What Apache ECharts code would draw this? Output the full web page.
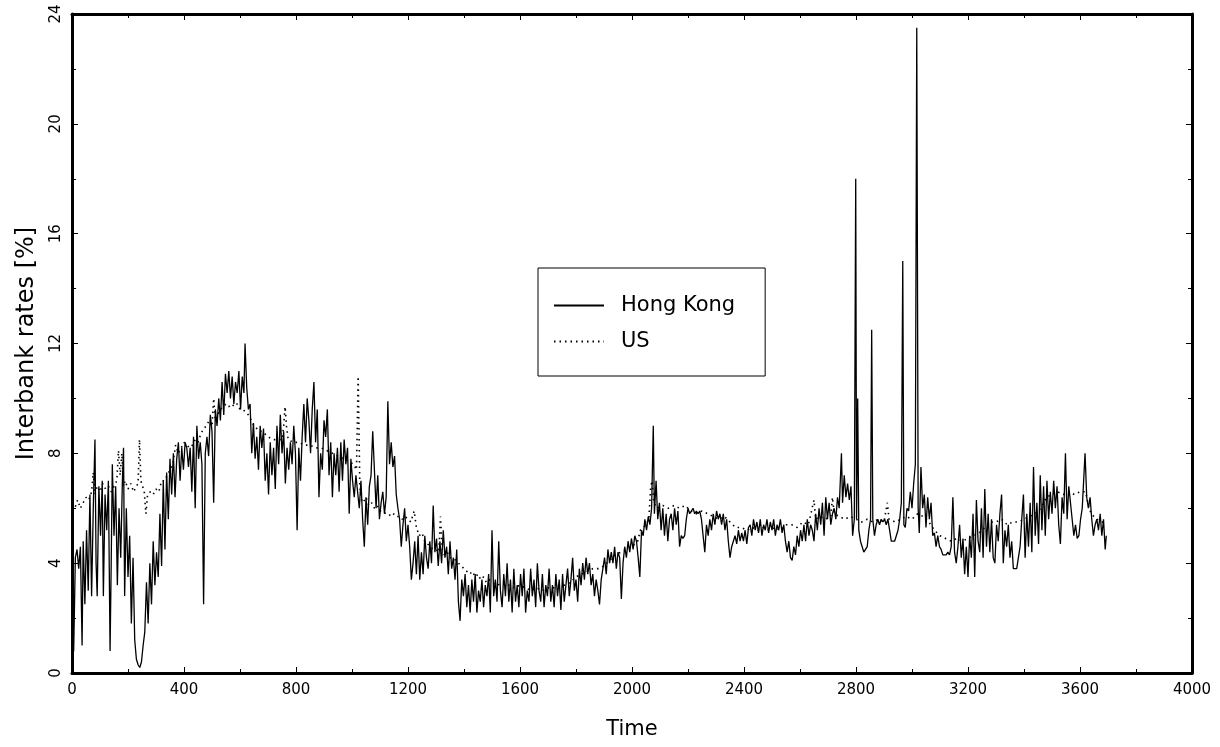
<!DOCTYPE html>
<html>
<head>
<meta charset="utf-8">
<script src="https://cdn.jsdelivr.net/npm/echarts@6/dist/echarts.min.js"></script>
<style>
  html, body {margin: 0; padding: 0; background: #fff;}
  #main {width: 1220px; height: 747px;}
</style>
</head>
<body>
<div id="main"></div>
<script>
// [time, rate]
const hkPoints = [
  [0,0.7],[6,0.8],[12,4.2],[18,4.5],[24,3.8],[30,4.6],[36,1.0],[40,4.8],[46,2.5],[52,5.2],[58,3.0],[64,6.5],[70,2.8],[76,6.0],[82,8.5],[86,4.0],[90,2.8],[96,6.8],
  [102,5.0],[108,7.0],[112,2.8],[118,6.5],[124,5.2],[130,7.0],[136,0.8],[140,4.0],[144,7.6],[150,5.0],[156,6.8],[162,3.2],[168,6.0],[174,4.2],[180,7.0],[184,8.2],[188,2.8],[194,6.0],
  [200,3.5],[206,5.0],[212,1.8],[218,4.2],[224,1.2],[230,0.5],[236,0.3],[242,0.2],[248,0.4],[254,1.0],[260,1.5],[266,3.3],[272,1.8],[278,4.0],[284,2.5],[290,4.8],[296,3.2],
  [302,4.4],[308,3.5],[314,5.8],[320,3.9],[326,7.0],[332,4.5],[338,7.3],[344,5.6],[350,7.8],[356,6.5],[362,8.0],[368,6.4],[374,7.8],[380,8.4],[386,7.0],[392,8.2],[398,7.4],
  [404,8.4],[410,8.2],[416,7.5],[422,8.2],[428,6.6],[434,8.6],[440,6.0],[446,9.0],[452,7.8],[458,8.4],[464,7.6],[470,2.5],[476,8.0],[482,8.6],[488,7.9],[494,9.4],
  [500,8.8],[506,6.2],[512,9.6],[518,9.0],[524,10.0],[530,9.2],[536,10.6],[542,9.4],[548,10.9],[554,10.2],[560,11.0],[566,10.0],[572,10.8],[578,9.8],[584,10.6],[590,10.2],[596,11.0],
  [602,9.6],[608,10.8],[614,10.2],[618,12.0],[624,10.4],[630,9.6],[636,9.8],[642,8.0],[648,9.1],[654,7.8],[660,8.6],[666,7.4],[672,9.0],[678,8.2],[684,8.9],[690,7.0],[696,8.0],
  [702,6.5],[708,8.4],[714,7.2],[720,8.2],[726,6.7],[732,9.0],[738,7.6],[744,9.4],[750,8.0],[756,8.8],[762,6.9],[768,8.2],[774,7.4],[780,8.4],[786,7.6],[792,9.0],[798,8.0],
  [804,5.2],[810,8.2],[816,7.0],[822,8.6],[828,9.8],[834,8.4],[840,10.0],[846,9.2],[852,8.0],[858,9.6],[864,10.6],[870,8.4],[876,9.6],[882,6.4],[888,8.0],[894,7.4],
  [900,9.2],[906,8.6],[912,9.6],[918,7.2],[924,8.4],[930,6.4],[936,8.0],[942,7.2],[948,8.2],[954,6.6],[960,8.4],[966,7.0],[972,8.5],[978,7.6],[984,8.2],[990,5.8],[996,7.8],
  [1002,7.0],[1008,6.4],[1014,7.2],[1020,6.6],[1026,6.0],[1032,7.0],[1038,5.6],[1044,4.6],[1050,6.4],[1056,5.4],[1062,6.8],[1068,7.2],[1074,8.8],[1080,7.4],[1086,6.0],[1092,7.2],[1098,5.6],
  [1104,6.2],[1110,6.6],[1116,5.8],[1122,6.4],[1128,9.9],[1134,7.6],[1140,8.4],[1146,7.5],[1152,7.9],[1158,6.5],[1164,6.0],[1170,5.6],[1176,4.6],[1182,5.4],[1188,6.0],[1194,4.8],
  [1200,5.4],[1206,4.6],[1212,3.4],[1218,4.0],[1224,4.8],[1230,3.6],[1236,5.0],[1242,3.4],[1248,4.4],[1254,3.6],[1260,5.0],[1266,4.2],[1272,3.8],[1278,4.8],[1284,4.0],[1290,6.1],[1296,4.4],
  [1302,4.9],[1308,3.9],[1314,4.8],[1320,4.0],[1326,5.2],[1332,4.2],[1338,4.6],[1344,3.6],[1350,4.8],[1356,3.8],[1362,4.2],[1368,3.4],[1374,4.5],[1380,2.6],[1386,1.9],[1392,3.4],[1398,2.8],
  [1404,3.6],[1410,2.4],[1416,3.2],[1422,2.2],[1428,3.4],[1434,2.6],[1440,3.6],[1446,2.2],[1452,3.0],[1458,2.6],[1464,3.4],[1470,2.4],[1476,3.2],[1482,2.8],[1488,3.6],[1494,2.2],
  [1500,5.2],[1506,2.8],[1512,3.4],[1518,2.6],[1524,4.8],[1530,3.0],[1536,2.4],[1542,3.6],[1548,2.8],[1554,4.0],[1560,2.6],[1566,3.4],[1572,2.2],[1578,3.8],[1584,2.6],[1590,3.2],[1596,2.4],
  [1602,3.6],[1608,2.8],[1614,3.8],[1620,2.2],[1626,3.0],[1632,2.6],[1638,3.8],[1644,2.8],[1650,3.4],[1656,2.4],[1662,4.0],[1668,3.0],[1674,2.6],[1680,3.6],[1686,2.4],[1692,3.2],[1698,2.8],
  [1704,3.8],[1710,2.6],[1716,3.2],[1722,2.4],[1728,3.6],[1734,2.8],[1740,3.4],[1746,2.3],[1752,3.6],[1758,2.6],[1764,3.2],[1770,3.8],[1776,2.8],[1782,3.4],[1788,4.2],[1794,3.0],
  [1800,3.4],[1806,2.6],[1812,3.8],[1818,3.2],[1824,4.0],[1830,3.4],[1836,4.2],[1842,3.6],[1848,4.0],[1854,3.2],[1860,3.6],[1866,2.8],[1872,3.4],[1878,3.0],[1884,2.5],[1890,3.4],[1896,3.8],
  [1902,4.2],[1908,3.6],[1914,4.5],[1920,4.0],[1926,4.4],[1932,4.0],[1938,4.6],[1944,3.8],[1950,4.4],[1956,4.2],[1962,2.7],[1968,4.0],[1974,4.6],[1980,4.2],[1986,4.8],[1992,4.4],[1998,4.9],
  [2004,4.5],[2010,5.0],[2016,4.8],[2022,4.2],[2028,3.5],[2034,5.2],[2040,5.0],[2046,5.6],[2052,5.2],[2058,5.7],[2064,5.4],[2070,6.0],[2076,9.0],[2080,5.8],[2086,7.0],[2092,5.6],[2098,6.2],
  [2104,5.2],[2110,6.0],[2116,5.0],[2122,5.8],[2128,4.8],[2134,5.6],[2140,5.8],[2146,5.2],[2152,6.0],[2158,5.4],[2164,5.9],[2170,4.6],[2176,5.0],[2182,4.9],[2188,5.0],[2194,5.6],
  [2200,6.0],[2206,5.8],[2212,5.9],[2218,6.0],[2224,5.8],[2230,5.9],[2236,5.8],[2242,5.9],[2248,5.6],[2254,5.0],[2260,4.4],[2266,5.4],[2272,5.0],[2278,5.6],[2284,5.2],[2290,5.8],[2296,5.4],
  [2302,5.9],[2308,5.6],[2314,5.8],[2320,5.4],[2326,5.8],[2332,5.2],[2338,5.6],[2344,4.8],[2350,4.2],[2356,4.6],[2362,4.8],[2368,5.0],[2374,4.7],[2380,5.2],[2386,4.8],[2392,5.1],[2398,4.8],
  [2404,5.2],[2410,4.7],[2416,5.3],[2422,5.4],[2428,5.0],[2434,5.6],[2440,5.2],[2446,5.5],[2452,5.1],[2458,5.6],[2464,5.0],[2470,5.4],[2476,5.2],[2482,5.6],[2488,5.1],[2494,5.5],
  [2500,5.2],[2506,5.6],[2512,5.0],[2518,5.4],[2524,5.2],[2530,5.6],[2536,5.1],[2542,5.4],[2548,4.8],[2554,4.4],[2560,4.8],[2566,4.2],[2572,4.1],[2578,4.6],[2584,4.3],[2590,5.0],[2596,4.6],
  [2602,5.2],[2608,4.8],[2614,5.4],[2620,4.8],[2626,5.6],[2632,5.0],[2638,5.4],[2644,5.2],[2650,4.8],[2656,5.8],[2662,5.2],[2668,6.0],[2674,5.4],[2680,6.2],[2686,5.0],[2692,6.4],[2698,5.6],
  [2704,6.2],[2710,5.4],[2716,5.8],[2722,6.0],[2728,5.6],[2734,6.4],[2740,6.0],[2748,8.0],[2752,6.2],[2758,7.2],[2764,6.4],[2770,6.9],[2776,6.3],[2782,6.8],[2788,5.0],[2794,5.6],
  [2799,18.0],[2802,5.6],[2806,10.0],[2810,5.2],[2816,4.8],[2822,4.6],[2828,4.4],[2834,4.4],[2840,4.6],[2846,5.2],[2852,5.6],[2856,12.5],[2860,5.6],[2866,5.0],[2872,5.4],[2878,5.6],
  [2884,5.4],[2890,5.6],[2896,5.5],[2902,5.6],[2908,5.4],[2914,5.6],[2920,5.2],[2926,4.8],[2932,4.8],[2938,4.8],[2944,4.8],[2950,5.2],[2956,5.6],[2962,6.2],[2967,15.0],[2971,5.4],
  [2976,5.3],[2982,6.0],[2988,5.9],[2994,6.6],[3000,6.0],[3006,6.9],[3012,7.6],[3017,23.5],[3022,6.0],[3026,5.1],[3032,7.5],[3038,6.0],[3044,6.5],[3050,5.3],[3056,6.4],[3062,5.6],
  [3068,6.2],[3074,5.0],[3080,5.1],[3086,4.6],[3092,5.0],[3098,4.6],[3104,4.5],[3110,4.3],[3116,4.3],[3122,4.3],[3128,4.4],[3134,4.3],[3140,4.6],[3146,6.4],[3152,4.4],[3158,4.0],
  [3164,4.6],[3170,5.4],[3176,4.2],[3182,4.9],[3188,3.6],[3194,4.6],[3200,3.5],[3206,5.0],[3212,4.2],[3218,5.8],[3224,3.5],[3230,6.3],[3236,4.8],[3242,4.4],[3248,6.0],[3254,4.2],
  [3260,6.7],[3266,4.6],[3272,5.8],[3278,4.4],[3284,5.6],[3290,4.2],[3296,4.0],[3302,5.4],[3308,4.8],[3314,5.8],[3320,6.5],[3326,4.0],[3332,5.2],[3338,4.6],[3344,5.4],[3350,4.2],
  [3356,4.8],[3362,3.8],[3368,3.8],[3374,3.8],[3380,3.8],[3386,4.6],[3392,5.6],[3398,6.5],[3404,4.2],[3410,5.8],[3416,4.6],[3422,6.2],[3428,4.4],[3434,7.5],[3440,5.0],[3446,6.2],
  [3452,4.7],[3458,7.2],[3464,5.2],[3470,6.8],[3476,5.0],[3482,7.0],[3488,5.6],[3494,6.6],[3500,5.8],[3506,7.0],[3512,6.0],[3518,6.8],[3524,5.4],[3530,4.7],[3536,6.4],[3542,5.8],
  [3548,8.0],[3554,5.6],[3560,6.8],[3566,6.2],[3572,5.6],[3578,5.0],[3584,5.4],[3590,4.9],[3596,5.0],[3602,5.6],[3608,6.0],[3614,7.2],[3618,8.0],[3624,6.4],[3630,6.0],[3636,6.4],
  [3642,5.6],[3648,5.0],[3654,5.4],[3660,5.6],[3666,5.2],[3672,5.8],[3678,5.0],[3684,5.6],[3690,4.5],[3694,5.0]
];

const usPoints = [
  [0,6.1],[10,6.0],[20,6.3],[30,6.0],[40,6.2],[50,6.4],[60,6.3],[70,6.6],[76,7.3],[82,6.5],[90,6.8],[100,6.6],[110,6.9],[120,6.7],[130,6.8],[140,6.6],[150,6.8],[160,7.0],
  [166,8.1],[172,7.2],[178,8.0],[184,6.8],[190,7.0],[200,6.7],[210,6.9],[220,6.6],[230,6.8],[236,6.9],[241,8.5],[246,7.0],[252,6.8],[258,6.6],[264,5.8],[270,6.5],[280,6.6],
  [290,6.5],[300,6.7],[310,6.6],[320,7.0],[330,7.0],[340,7.2],[350,7.4],[360,7.6],[370,8.3],[380,8.0],[390,8.2],[400,8.4],[410,8.3],[420,8.2],[430,8.3],[440,8.5],[450,8.4],
  [460,8.7],[470,8.9],[480,9.0],[490,9.2],[500,9.0],[506,10.0],[512,9.2],[520,9.4],[530,9.6],[540,9.7],[550,9.8],[560,9.7],[570,9.8],[580,9.7],[590,9.8],[600,9.6],[610,9.6],
  [620,9.5],[630,9.4],[640,9.2],[650,9.0],[660,8.9],[670,8.8],[680,8.8],[690,8.7],[700,8.6],[720,8.5],[740,8.5],[750,8.5],[756,9.0],[761,9.7],[766,9.0],[772,8.5],[790,8.4],
  [810,8.4],[830,8.3],[850,8.3],[870,8.2],[890,8.2],[910,8.1],[930,8.0],[950,7.9],[970,7.8],[990,7.7],[1006,7.6],[1016,7.4],[1022,10.8],[1028,6.8],[1034,6.3],[1040,6.2],
  [1050,6.4],[1060,6.1],[1070,6.2],[1080,6.0],[1090,6.1],[1100,5.9],[1110,5.9],[1120,5.8],[1130,5.8],[1140,5.7],[1150,5.8],[1160,5.7],[1170,5.7],[1180,5.6],[1190,5.7],[1200,5.6],
  [1210,5.5],[1222,5.9],[1230,5.3],[1240,5.0],[1250,5.1],[1260,4.8],[1270,4.7],[1280,4.6],[1290,4.5],[1300,4.5],[1310,4.4],[1316,5.7],[1322,4.5],[1330,4.3],[1340,4.4],[1350,4.2],
  [1360,4.2],[1370,4.1],[1380,4.0],[1390,3.9],[1400,3.8],[1410,3.7],[1420,3.6],[1430,3.7],[1440,3.5],[1450,3.6],[1460,3.4],[1470,3.5],[1480,3.3],[1490,3.4],[1500,3.3],[1520,3.2],
  [1540,3.3],[1560,3.2],[1580,3.1],[1600,3.2],[1620,3.1],[1640,3.0],[1660,3.1],[1680,3.0],[1700,3.1],[1720,3.1],[1740,3.2],[1760,3.2],[1780,3.3],[1800,3.5],[1820,3.6],[1840,3.7],
  [1860,3.8],[1880,3.8],[1900,3.9],[1920,4.1],[1940,4.3],[1960,4.4],[1980,4.5],[2000,4.6],[2020,4.8],[2030,5.2],[2040,5.3],[2050,5.4],[2060,5.6],[2067,6.8],[2072,7.0],[2078,6.2],
  [2090,6.0],[2110,6.1],[2130,6.0],[2150,6.1],[2170,6.0],[2190,6.1],[2210,5.9],[2230,5.8],[2250,5.9],[2270,5.8],[2290,5.7],[2310,5.6],[2330,5.7],[2350,5.5],[2370,5.3],[2390,5.3],
  [2410,5.2],[2430,5.3],[2450,5.2],[2470,5.3],[2490,5.2],[2510,5.3],[2530,5.2],[2550,5.4],[2570,5.4],[2590,5.3],[2610,5.5],[2630,5.4],[2650,6.3],[2656,5.6],[2670,5.7],[2690,5.6],
  [2710,5.7],[2716,6.4],[2722,5.8],[2740,5.7],[2760,5.6],[2780,5.7],[2800,5.6],[2820,5.5],[2840,5.6],[2860,5.5],[2880,5.6],[2900,5.5],[2912,6.2],[2918,5.6],[2940,5.5],[2960,5.6],
  [2980,5.7],[3000,5.6],[3020,5.8],[3040,5.7],[3060,5.5],[3080,5.2],[3100,5.0],[3120,4.9],[3140,4.8],[3160,4.9],[3180,4.8],[3200,4.9],[3220,5.0],[3240,5.1],[3260,5.3],[3280,5.5],
  [3300,5.5],[3320,5.6],[3340,5.4],[3360,5.5],[3380,5.5],[3400,5.6],[3420,5.7],[3440,5.8],[3460,6.0],[3480,6.4],[3500,6.5],[3520,6.6],[3540,6.5],[3560,6.6],[3580,6.5],[3600,6.6],
  [3620,6.6],[3630,6.1],[3640,5.8],[3660,5.6],[3680,5.5],[3694,5.4]
];

const xRange = [0, 4000];
const yRange = [0, 24];
const seriesNames = ['Hong Kong', 'US'];

const fontFamily = 'DejaVu Sans, Verdana, sans-serif';
const chart = echarts.init(document.getElementById('main'));

const frameLine = {show: true, onZero: false, lineStyle: {color: '#000', width: 3}};
const frameTick = {show: true, inside: true, length: 6, lineStyle: {color: '#000', width: 1}};
const frameMinor = {show: true, splitNumber: 2, length: 4, lineStyle: {color: '#000', width: 1}};

let option = {
  animation: false,
  backgroundColor: '#fff',
  textStyle: {fontFamily: fontFamily},
  grid: {left: 72, right: 28, top: 14, bottom: 74},
  legend: {
    data: seriesNames,
    orient: 'vertical',
    left: 538,
    top: 268,
    padding: [27, 30, 24, 15],
    itemWidth: 50,
    itemHeight: 14,
    itemGap: 15,
    backgroundColor: '#fff',
    borderColor: '#000',
    borderWidth: 1,
    borderRadius: 0,
    itemStyle: {opacity: 0},
    textStyle: {color: '#000', fontSize: 21, fontFamily: fontFamily, padding: [0, 0, 0, 12]}
  },
  xAxis: [
    {
      type: 'value',
      min: xRange[0], max: xRange[1], interval: 400,
      name: 'Time',
      nameLocation: 'middle',
      nameGap: 46,
      nameTextStyle: {color: '#000', fontSize: 21, fontFamily: fontFamily},
      axisLine: frameLine,
      axisTick: frameTick,
      minorTick: frameMinor,
      axisLabel: {color: '#000', fontSize: 15, margin: 10, fontFamily: fontFamily, formatter: v => String(v)},
      splitLine: {show: false}
    },
    {
      type: 'value', position: 'top',
      min: xRange[0], max: xRange[1], interval: 400,
      axisLine: frameLine,
      axisTick: frameTick,
      minorTick: frameMinor,
      axisLabel: {show: false},
      splitLine: {show: false}
    }
  ],
  yAxis: [
    {
      type: 'value',
      min: yRange[0], max: yRange[1], interval: 4,
      name: 'Interbank rates [%]',
      nameLocation: 'middle',
      nameGap: 33,
      nameTextStyle: {color: '#000', fontSize: 24, fontFamily: fontFamily},
      axisLine: frameLine,
      axisTick: frameTick,
      minorTick: frameMinor,
      axisLabel: {color: '#000', fontSize: 15, margin: 8, rotate: 90, fontFamily: fontFamily},
      splitLine: {show: false}
    },
    {
      type: 'value', position: 'right',
      min: yRange[0], max: yRange[1], interval: 4,
      axisLine: frameLine,
      axisTick: frameTick,
      minorTick: frameMinor,
      axisLabel: {show: false},
      splitLine: {show: false}
    }
  ],
  series: [
    {
      name: seriesNames[0],
      type: 'line',
      data: hkPoints,
      symbol: 'none',
      lineStyle: {color: '#000', width: 1.3},
      itemStyle: {color: '#000'},
      z: 3
    },
    {
      name: seriesNames[1],
      type: 'line',
      data: usPoints,
      symbol: 'none',
      lineStyle: {color: '#000', width: 1.6, type: [1.5, 4]},
      itemStyle: {color: '#000'},
      z: 2
    }
  ]
};

chart.setOption(option);
</script>
</body>
</html>
